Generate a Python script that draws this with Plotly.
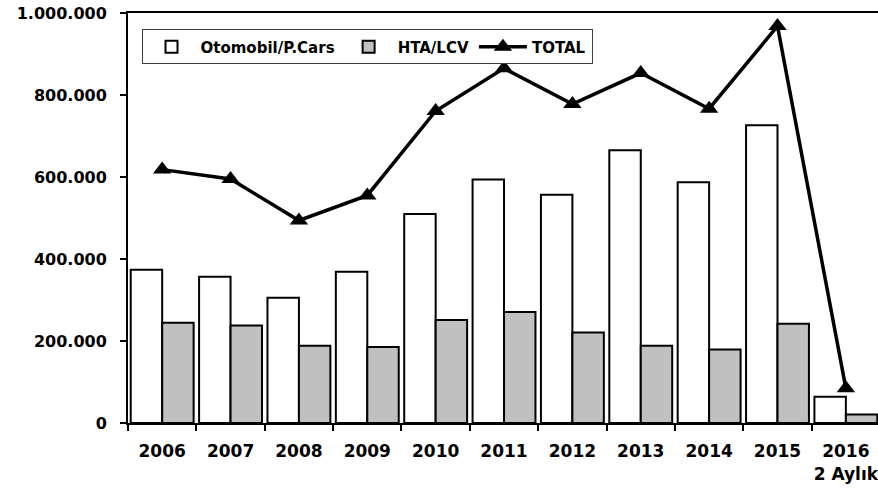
import plotly.graph_objects as go

categories = ["2006", "2007", "2008", "2009", "2010", "2011", "2012", "2013", "2014", "2015", "2016<br>2 Aylık"]
cars = [374000, 357000, 305500, 369000, 510000, 594000, 557000, 665000, 587500, 726000, 64000]
lcv = [244500, 238000, 188500, 185500, 251000, 271000, 221000, 188500, 179000, 242000, 20500]
total = [618000, 595000, 494000, 555000, 761000, 865000, 778000, 853500, 766500, 968000, 84500]
ytick_vals = [0, 200000, 400000, 600000, 800000, 1000000]
ytick_text = ["0", "200.000", "400.000", "600.000", "800.000", "1.000.000"]

FONT = "DejaVu Sans"

fig = go.Figure()
fig.add_trace(go.Bar(
    x=categories, y=cars, name="Otomobil/P.Cars",
    marker=dict(color="white", line=dict(color="black", width=2)),
))
fig.add_trace(go.Bar(
    x=categories, y=lcv, name="HTA/LCV",
    marker=dict(color="#C0C0C0", line=dict(color="black", width=2)),
))
fig.add_trace(go.Scatter(
    x=categories, y=total, name="TOTAL", mode="lines+markers",
    line=dict(color="black", width=3.5),
    marker=dict(symbol="triangle-up", size=16, color="black"),
    cliponaxis=False,
))

fig.update_layout(
    width=878, height=491,
    margin=dict(l=128, r=0, t=13, b=68, autoexpand=False),
    paper_bgcolor="white", plot_bgcolor="white",
    barmode="group", bargap=0.08, bargroupgap=0,
    font=dict(family=FONT, size=17, color="black"),
    showlegend=True,
    legend=dict(
        orientation="h", x=0.018, y=0.96, xanchor="left", yanchor="top",
        bgcolor="white", bordercolor="#404040", borderwidth=1,
        font=dict(family=FONT, size=15, color="black", weight="bold"),
        itemwidth=48,
    ),
    xaxis=dict(
        type="category", range=[-0.5, 10.47],
        showline=True, linecolor="black", linewidth=2, mirror=True,
        ticks="outside", tickson="boundaries", ticklen=6, tickwidth=1.5, tickcolor="black",
        tickfont=dict(family=FONT, size=17, color="black", weight="bold"),
        tickangle=0, automargin=False,
        showgrid=False, zeroline=False,
        ticklabelstandoff=12,
    ),
    yaxis=dict(
        range=[0, 1000000], automargin=False,
        tickvals=ytick_vals, ticktext=ytick_text,
        showline=True, linecolor="black", linewidth=2,
        ticks="outside", ticklen=6, tickwidth=1.5, tickcolor="black",
        tickfont=dict(family=FONT, size=16, color="black", weight="bold"),
        showgrid=False, zeroline=False,
        ticklabelstandoff=10,
    ),
)

fig.write_html(
    "out.html",
    config={"displayModeBar": False},
    post_script="document.body.style.margin='0';document.body.style.overflow='hidden';",
)
